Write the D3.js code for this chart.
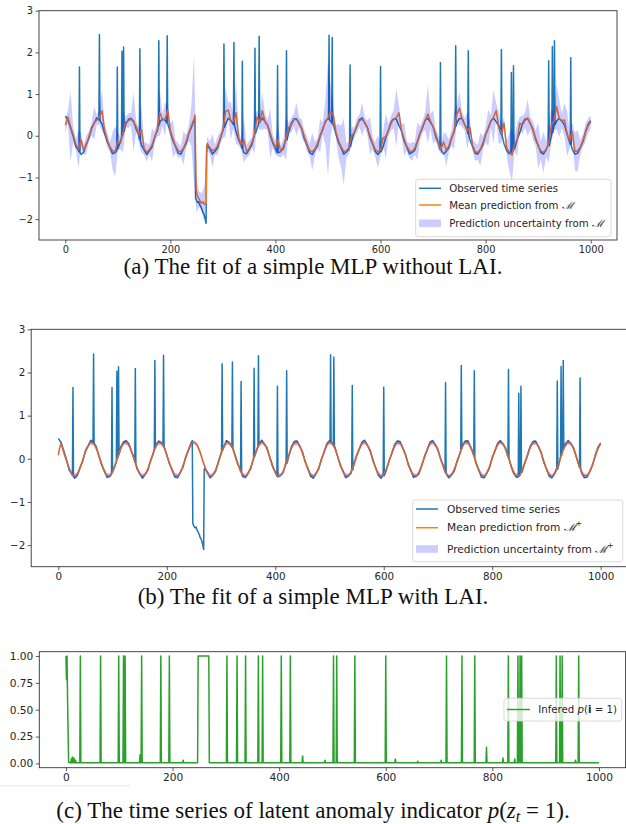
<!DOCTYPE html>
<html>
<head>
<meta charset="utf-8">
<script src="https://cdn.jsdelivr.net/npm/d3@7"></script>
<style>
	body { margin: 0; background: #fff; }
	svg { display: block; font-family: "DejaVu Sans", sans-serif; }
	.cap { font-family: "Liberation Serif", "Times New Roman", serif; font-size: 23px; fill: #111; }
</style>
</head>
<body>
<div id="chart"></div>
<script>
// ---- data ----
var tStep = 5; // observed / predicted values sampled every 5 steps, t = 0..1000

var observed = [
	0.47,0.38,0.19,-0.01,-0.26,-0.35,-0.45,-0.39,-0.20,-0.06,0.19,0.30,0.43,0.37,0.28,0.05,-0.15,-0.28,-0.43,-0.40,-0.33,-0.13,0.04,0.27,0.39,
	0.42,0.35,0.16,0.01,-0.23,-0.34,-0.45,-0.36,-0.27,-0.04,0.12,0.33,0.41,0.37,0.30,0.08,-0.12,-0.26,-0.42,-0.44,-0.31,-0.19,0.05,0.20,0.37,
	-1.55,-1.63,-1.78,-1.92,-0.22,-0.31,-0.44,-0.37,-0.29,-0.07,0.13,0.27,0.42,0.37,0.31,0.10,-0.10,-0.24,-0.41,-0.43,-0.33,-0.22,0.02,0.17,0.36,
	0.43,0.34,0.25,0.02,-0.18,-0.31,-0.44,-0.38,-0.31,-0.10,0.07,0.29,0.40,0.41,0.29,0.17,-0.07,-0.22,-0.40,-0.45,-0.34,-0.24,-0.01,0.15,0.35,
	0.42,0.35,0.27,0.05,-0.16,-0.29,-0.44,-0.39,-0.33,-0.12,0.08,0.23,0.39,0.43,0.31,0.20,-0.04,-0.20,-0.38,-0.45,-0.36,-0.26,-0.04,0.13,0.33,
	0.41,0.40,0.25,0.11,-0.13,-0.27,-0.43,-0.40,-0.35,-0.15,0.05,0.20,0.38,0.42,0.32,0.22,-0.02,-0.17,-0.37,-0.44,-0.37,-0.29,-0.06,0.10,0.31,
	0.41,0.42,0.27,0.14,-0.10,-0.25,-0.42,-0.44,-0.33,-0.21,0.03,0.18,0.36,0.42,0.34,0.24,0.01,-0.19,-0.35,-0.43,-0.38,-0.31,-0.09,0.07,0.29,
	0.40,0.41,0.29,0.16,-0.08,-0.23,-0.40,-0.44,-0.34,-0.24,0.00,0.16,0.35,0.42,0.35,0.26,0.04,-0.16,-0.33,-0.44,-0.42,-0.29,-0.15,0.09,0.27,
	0.36
];

// [t, value before, spike value, value after]
var obsSpikes = [
	[27,-0.38,1.65,-0.40],[65,0.38,2.43,0.36],[99,-0.36,1.65,-0.31],[108,-0.05,2.03,0.00],[111,0.06,2.13,0.10],
	[142,-0.08,2.09,-0.12],[178,0.22,2.28,0.26],[194,0.31,2.40,0.29],[302,0.16,2.20,0.20],[321,0.27,2.24,0.25],
	[337,-0.29,1.79,-0.33],[361,0.02,2.10,0.06],[369,0.29,2.39,0.32],[404,-0.40,1.68,-0.41],[421,-0.06,2.04,-0.10],
	[502,0.40,2.41,0.38],[508,0.31,2.36,0.29],[542,-0.22,1.70,-0.26],[600,-0.37,1.66,-0.39],[714,-0.31,1.76,-0.34],
	[743,0.20,2.16,0.24],[767,0.06,2.04,0.03],[830,0.04,2.07,0.02],[849,-0.41,1.52,-0.40],[853,-0.35,1.68,-0.32],
	[920,-0.21,1.80,-0.24],[927,0.04,2.14,0.08],[931,0.22,2.28,0.26],[962,-0.20,1.87,-0.24]
];

var obsAnomaly = [
	[247,0.42],[248,-1.50],[250,-1.56],[252,-1.60],[254,-1.58],[256,-1.66],[258,-1.70],
	[260,-1.76],[262,-1.84],[264,-1.88],[266,-1.98],[268,-2.10],[269,-0.25]
];

// mean prediction of the plain MLP
var meanA = [
	0.25,0.45,0.22,0.03,-0.20,-0.33,-0.10,-0.34,-0.22,-0.02,0.15,0.31,0.38,0.45,0.60,0.12,-0.10,-0.27,-0.36,-0.38,-0.12,-0.18,0.10,0.33,0.36,
	0.40,0.33,0.22,0.02,0.15,-0.30,-0.40,-0.33,-0.22,-0.05,0.16,0.55,0.38,0.40,0.62,0.12,-0.07,-0.25,-0.36,-0.38,-0.30,-0.14,0.06,0.24,0.40,
	-1.45,-1.52,-1.60,-1.63,-0.20,-0.28,-0.36,-0.33,-0.24,-0.05,0.12,0.58,0.62,0.36,0.33,0.55,-0.05,-0.22,-0.10,-0.38,-0.30,-0.16,0.02,0.45,0.32,
	0.60,0.35,0.26,0.06,-0.14,-0.28,-0.10,-0.38,-0.26,-0.08,0.20,0.25,0.38,0.40,0.32,0.17,-0.02,-0.20,-0.35,-0.38,-0.32,-0.19,0.00,0.18,0.32,
	0.43,0.58,0.50,0.10,-0.12,-0.26,-0.38,-0.36,-0.28,0.00,0.08,0.25,0.36,0.40,0.32,0.18,0.00,-0.18,-0.33,-0.38,-0.35,-0.05,-0.02,0.14,0.30,
	0.40,0.43,0.55,0.12,-0.08,-0.25,-0.36,-0.38,-0.30,-0.13,0.05,0.22,0.36,0.52,0.35,0.21,0.03,-0.16,-0.32,-0.15,-0.35,-0.24,-0.06,0.12,0.50,
	0.66,0.40,0.27,0.12,0.20,-0.22,-0.38,-0.40,-0.32,-0.17,0.03,0.18,0.34,0.45,0.60,0.20,0.05,0.30,-0.30,-0.38,-0.46,-0.20,-0.09,0.30,0.26,
	0.37,0.43,0.30,0.13,-0.05,-0.24,-0.36,-0.40,-0.33,-0.20,0.25,0.35,0.70,0.42,0.36,0.38,0.05,-0.12,0.10,-0.38,-0.36,-0.28,-0.12,0.07,0.24,
	0.33
];

var meanAAnomaly = [
	[247,0.50],[249,-1.30],[251,-1.42],[253,-1.48],[256,-1.55],[259,-1.62],
	[262,-1.58],[265,-1.65],[268,-1.60],[269,-0.45],[270,-0.18]
];

// half width of the uncertainty band of the plain MLP
var spreadA = [
	0.18,0.15,0.85,0.18,0.12,0.45,0.18,0.12,0.22,0.12,0.15,0.40,0.12,0.18,0.50,0.12,0.18,0.12,0.45,0.60,0.22,0.15,0.50,0.12,0.18,
	0.15,0.70,0.12,0.18,0.55,0.15,0.22,0.12,0.40,0.15,0.18,0.55,0.15,0.40,0.12,0.18,0.45,0.15,0.18,0.12,0.40,0.15,0.18,0.50,1.55,
	0.40,0.18,0.22,0.45,0.18,0.15,0.40,0.12,0.22,0.15,0.18,0.60,0.18,0.45,0.15,0.75,0.18,0.12,0.55,0.15,0.18,0.12,0.45,0.15,0.18,
	0.45,0.18,0.12,0.60,0.15,0.18,0.40,0.15,0.18,0.50,0.12,0.18,0.15,0.40,0.12,0.22,0.15,0.18,0.15,0.45,0.18,0.12,0.40,0.15,0.55,
	1.40,0.60,0.18,0.15,0.40,0.50,0.80,0.18,0.15,0.22,0.12,0.18,0.15,0.40,0.12,0.18,0.45,0.15,0.18,0.40,0.12,0.18,0.55,0.15,0.18,
	0.22,0.70,0.18,0.15,0.40,0.12,0.18,0.22,0.15,0.45,0.18,0.15,0.22,0.70,0.18,0.40,0.15,0.18,0.12,0.22,0.40,0.15,0.18,0.45,0.22,
	0.40,0.18,0.15,0.45,0.18,0.15,0.22,0.18,0.40,0.15,0.18,0.45,0.15,0.65,0.18,0.40,0.22,0.15,0.18,0.45,0.65,0.18,0.40,0.15,0.22,
	0.18,0.45,0.15,0.22,0.18,0.55,0.22,0.50,0.18,0.45,0.40,0.22,0.55,0.45,0.18,0.40,0.55,0.18,0.22,0.45,0.50,0.18,0.15,0.22,0.18,
	0.15
];

// mean prediction of the MLP with LAI
var meanB = [
	0.08,0.34,0.15,-0.04,-0.22,-0.35,-0.40,-0.35,-0.22,-0.03,0.16,0.30,0.38,0.35,0.24,0.07,-0.12,-0.29,-0.39,-0.39,-0.30,-0.14,0.05,0.23,0.35,
	0.38,0.32,0.17,-0.02,-0.20,-0.34,-0.40,-0.36,-0.24,-0.06,0.13,0.29,0.37,0.36,0.26,0.09,-0.10,-0.27,-0.38,-0.39,-0.32,-0.16,0.03,0.21,0.34,
	0.38,0.33,0.20,0.01,-0.18,-0.33,-0.40,-0.37,-0.26,-0.09,0.11,0.27,0.37,0.37,0.28,0.12,-0.07,-0.25,-0.37,-0.40,-0.33,-0.19,0.00,0.18,0.32,
	0.38,0.34,0.22,0.04,-0.15,-0.31,-0.39,-0.38,-0.28,-0.11,0.08,0.25,0.36,0.37,0.30,0.14,-0.05,-0.23,-0.36,-0.40,-0.35,-0.21,-0.03,0.16,0.31,
	0.38,0.35,0.24,0.06,-0.13,-0.29,-0.39,-0.39,-0.30,-0.14,0.06,0.23,0.35,0.38,0.31,0.17,-0.02,-0.21,-0.34,-0.40,-0.36,-0.23,-0.05,0.14,0.29,
	0.37,0.36,0.26,0.09,-0.11,-0.27,-0.38,-0.39,-0.31,-0.16,0.03,0.21,0.34,0.38,0.33,0.19,0.00,-0.18,-0.33,-0.40,-0.37,-0.25,-0.08,0.11,0.28,
	0.37,0.37,0.28,0.11,-0.08,-0.26,-0.37,-0.40,-0.33,-0.18,0.01,0.19,0.33,0.38,0.34,0.21,0.03,-0.16,-0.32,-0.39,-0.38,-0.27,-0.10,0.09,0.26,
	0.36,0.37,0.29,0.14,-0.05,-0.24,-0.36,-0.40,-0.34,-0.21,-0.02,0.17,0.31,0.38,0.35,0.23,0.06,-0.14,-0.30,-0.39,-0.39,-0.29,-0.13,0.06,0.24,
	0.35
];

var spreadB = [
	0.08,0.07,0.06,0.05,0.05,0.06,0.06,0.05,0.05,0.05,0.06,0.05,0.06,0.05,0.05,0.05,0.06,0.05,0.06,0.06,0.05,0.05,0.05,0.06,0.05,
	0.06,0.05,0.05,0.05,0.06,0.05,0.06,0.05,0.05,0.05,0.06,0.05,0.06,0.06,0.05,0.05,0.05,0.06,0.06,0.05,0.05,0.05,0.06,0.05,0.06,
	0.05,0.05,0.06,0.05,0.05,0.06,0.06,0.05,0.05,0.05,0.06,0.05,0.06,0.05,0.05,0.05,0.06,0.05,0.06,0.06,0.05,0.05,0.05,0.06,0.05,
	0.06,0.05,0.05,0.05,0.06,0.05,0.06,0.05,0.05,0.05,0.06,0.05,0.06,0.06,0.05,0.05,0.05,0.06,0.06,0.05,0.05,0.05,0.06,0.05,0.06,
	0.05,0.05,0.06,0.05,0.05,0.06,0.06,0.05,0.05,0.05,0.06,0.05,0.06,0.05,0.05,0.05,0.06,0.05,0.06,0.06,0.05,0.05,0.05,0.06,0.05,
	0.06,0.05,0.05,0.05,0.06,0.05,0.06,0.05,0.05,0.05,0.06,0.05,0.06,0.06,0.05,0.05,0.05,0.06,0.06,0.05,0.05,0.05,0.06,0.05,0.06,
	0.05,0.05,0.06,0.05,0.05,0.06,0.06,0.05,0.05,0.05,0.06,0.05,0.06,0.05,0.05,0.05,0.06,0.05,0.06,0.06,0.05,0.05,0.05,0.06,0.05,
	0.06,0.05,0.05,0.05,0.06,0.05,0.06,0.05,0.05,0.05,0.06,0.05,0.06,0.06,0.05,0.05,0.05,0.06,0.06,0.05,0.05,0.05,0.06,0.05,0.06,
	0.05
];

// inferred anomaly probability p(i = 1)
var probFloor = 0.005;
var probStart = [[0,1.0],[1,0.78],[2,1.0],[3,0.6],[5,0.01]];
var probSpikes = [27,65,99,108,111,142,178,194,302,321,337,361,369,404,421,
	502,508,542,600,714,743,767,830,848,852,855,920,927,931,962];
var probBumps = [[10,0.04],[12,0.06],[15,0.05],[18,0.03],[139,0.08],[220,0.03],[444,0.07],[486,0.03],
	[618,0.04],[660,0.02],[704,0.03],[789,0.15],[820,0.05],[842,0.04],[956,0.03]];
var probBlock = [[247,0.005],[248,1.0],[268,1.0],[269,0.005]];
var probEnd = [[1000,0.005]];

var xTicks = [0, 200, 400, 600, 800, 1000];
var yTicksAB = [-2, -1, 0, 1, 2, 3];
var yTicksC = [0, 0.25, 0.5, 0.75, 1];

// ---- helpers ----
var BLUE = "#1f77b4", ORANGE = "#ff7f0e", GREEN = "#2ca02c", BAND = "rgba(0,0,255,0.2)";

function gridPoints(vals) {
	return vals.map(function(v, i) { return [i * tStep, v]; });
}

// put explicit groups of points in place of the grid samples they cover
function mergeGroups(pts, groups) {
	groups.forEach(function(g) {
		var lo = g[0][0], hi = g[g.length - 1][0];
		pts = pts.filter(function(p) { return p[0] < lo || p[0] > hi; }).concat(g);
	});
	return pts.sort(function(a, b) { return a[0] - b[0]; });
}

function spikeGroup(s) {
	return [[s[0] - 1, s[1]], [s[0], s[2]], [s[0] + 1, s[3]]];
}

var svg = d3.select("#chart").append("svg")
	.attr("width", 626)
	.attr("height", 824);

var clipId = 0;

function makePanel(o) {
	var x = d3.scaleLinear().domain([-50, 1050]).range([o.left, o.right]);
	var y = d3.scaleLinear().domain(o.yDomain).range([o.bottom, o.top]);
	var g = svg.append("g");

	var id = "clip" + (clipId++);
	g.append("clipPath").attr("id", id)
		.append("rect")
		.attr("x", o.left).attr("y", o.top)
		.attr("width", o.right - o.left).attr("height", o.bottom - o.top);

	var plot = g.append("g").attr("clip-path", "url(#" + id + ")");

	var xa = g.append("g")
		.attr("transform", "translate(0," + o.bottom + ")")
		.call(d3.axisBottom(x).tickValues(xTicks).tickSize(3.5).tickPadding(2.5).tickFormat(d3.format("d")));
	var ya = g.append("g")
		.attr("transform", "translate(" + o.left + ",0)")
		.call(d3.axisLeft(y).tickValues(o.yTicks).tickSize(3.5).tickPadding(2.5).tickFormat(o.yFormat));

	[xa, ya].forEach(function(a) {
		a.select(".domain").remove();
		a.selectAll("line").attr("stroke", "#333").attr("stroke-width", 0.8);
		a.selectAll("text").attr("fill", "#262626")
			.style("font-family", "'DejaVu Sans', sans-serif")
			.style("font-size", o.font + "px");
	});

	g.append("rect")
		.attr("x", o.left).attr("y", o.top)
		.attr("width", o.right - o.left).attr("height", o.bottom - o.top)
		.attr("fill", "none")
		.attr("stroke", "#333")
		.attr("stroke-width", 0.9);

	return { x: x, y: y, g: g, plot: plot };
}

function drawLine(p, pts, color, width, curve) {
	p.plot.append("path")
		.datum(pts)
		.attr("fill", "none")
		.attr("stroke", color)
		.attr("stroke-width", width)
		.attr("stroke-linejoin", "round")
		.attr("d", d3.line()
			.x(function(d) { return p.x(d[0]); })
			.y(function(d) { return p.y(d[1]); })
			.curve(curve || d3.curveLinear));
}

function drawBand(p, mean, spread, curve) {
	var pts = mean.map(function(m, i) { return [i * tStep, m, spread[i]]; });
	p.plot.append("path")
		.datum(pts)
		.attr("fill", BAND)
		.attr("stroke", "none")
		.attr("d", d3.area()
			.x(function(d) { return p.x(d[0]); })
			.y0(function(d) { return p.y(d[1] - d[2]); })
			.y1(function(d) { return p.y(d[1] + d[2]); })
			.curve(curve || d3.curveLinear));
}

// legend rows: {kind, color, label(tspans)}
function drawLegend(box, rows) {
	var lg = svg.append("g");
	lg.append("rect")
		.attr("x", box.x).attr("y", box.y)
		.attr("width", box.w).attr("height", box.h)
		.attr("rx", 2.5)
		.attr("fill", "#fff").attr("fill-opacity", 0.8)
		.attr("stroke", "#d0d0d0").attr("stroke-width", 0.8);
	rows.forEach(function(r) {
		if (r.kind == "line") {
			lg.append("line")
				.attr("x1", box.hx).attr("x2", box.hx + box.hw)
				.attr("y1", r.y).attr("y2", r.y)
				.attr("stroke", r.color).attr("stroke-width", 1.5);
		} else {
			lg.append("rect")
				.attr("x", box.hx).attr("y", r.y - 3.8)
				.attr("width", box.hw).attr("height", 7.6)
				.attr("fill", r.color);
		}
		var t = lg.append("text")
			.attr("x", box.tx).attr("y", r.y + 3.6)
			.attr("fill", "#262626")
			.style("font-size", box.font + "px");
		r.label.forEach(function(s) {
			var ts = t.append("tspan").text(s.t);
			if (s.style) ts.attr("style", s.style);
			if (s.dy) ts.attr("dy", s.dy);
		});
	});
}

// ---- panel (a) ----
var pa = makePanel({ left: 39, right: 617, top: 10.7, bottom: 240, yDomain: [-2.5, 3],
	yTicks: yTicksAB, yFormat: d3.format("d"), font: 9.8 });

var obsPts = mergeGroups(gridPoints(observed), obsSpikes.map(spikeGroup).concat([obsAnomaly]));
drawLine(pa, obsPts, BLUE, 1.5);
drawLine(pa, mergeGroups(gridPoints(meanA), [meanAAnomaly]), ORANGE, 1.5);
drawBand(pa, meanA, spreadA);

drawLegend({ x: 415.7, y: 179.3, w: 195.3, h: 57.4, hx: 419, hw: 22, tx: 449.3, font: 10.2 }, [
	{ kind: "line", color: BLUE, y: 188.3, label: [{ t: "Observed time series" }] },
	{ kind: "line", color: ORANGE, y: 205, label: [{ t: "Mean prediction from " }, { t: "ℳ", style: "font-family:'DejaVu Serif',serif;font-style:italic" }] },
	{ kind: "patch", color: BAND, y: 223.3, label: [{ t: "Prediction uncertainty from " }, { t: "ℳ", style: "font-family:'DejaVu Serif',serif;font-style:italic" }] }
]);

// ---- panel (b) ----
var pb = makePanel({ left: 31.2, right: 627.8, top: 329.3, bottom: 566.7, yDomain: [-2.5, 3],
	yTicks: yTicksAB, yFormat: d3.format("d"), font: 10.3 });

drawLine(pb, obsPts, BLUE, 1.5);
drawLine(pb, gridPoints(meanB), ORANGE, 1.6, d3.curveMonotoneX);
drawBand(pb, meanB, spreadB, d3.curveMonotoneX);

drawLegend({ x: 412.7, y: 500, w: 210, h: 61.7, hx: 416, hw: 22, tx: 447, font: 10.6 }, [
	{ kind: "line", color: BLUE, y: 509, label: [{ t: "Observed time series" }] },
	{ kind: "line", color: ORANGE, y: 527.7, label: [{ t: "Mean prediction from " }, { t: "ℳ", style: "font-family:'DejaVu Serif',serif;font-style:italic" }, { t: "+", style: "font-size:7.5px", dy: "-5" }] },
	{ kind: "patch", color: BAND, y: 549, label: [{ t: "Prediction uncertainty from " }, { t: "ℳ", style: "font-family:'DejaVu Serif',serif;font-style:italic" }, { t: "+", style: "font-size:7.5px", dy: "-5" }] }
]);

// ---- panel (c) ----
var pc = makePanel({ left: 39.3, right: 625.6, top: 651.7, bottom: 767.7, yDomain: [-0.04, 1.04],
	yTicks: yTicksC, yFormat: d3.format(".2f"), font: 10.6 });

var probGroups = probSpikes.map(function(t) { return spikeGroup([t, probFloor, 1.0, probFloor]); })
	.concat(probBumps.map(function(b) { return spikeGroup([b[0], probFloor, b[1], probFloor]); }));
var probPts = probStart.concat(probBlock, probEnd);
probGroups.forEach(function(g) { probPts = probPts.concat(g); });
probPts.sort(function(a, b) { return a[0] - b[0]; });
drawLine(pc, probPts, GREEN, 1.5);

drawLegend({ x: 504, y: 698.3, w: 117.7, h: 22.7, hx: 507, hw: 23, tx: 538.3, font: 10.2 }, [
	{ kind: "line", color: GREEN, y: 709.5, label: [
		{ t: "Infered " }, { t: "p", style: "font-style:italic" }, { t: "(" },
		{ t: "i", style: "font-weight:bold" }, { t: " = 1)" }] }
]);

// faint rule under panel (c)
svg.append("rect")
	.attr("x", 0).attr("y", 785.2)
	.attr("width", 130).attr("height", 1)
	.attr("fill", "#e4e4e4");

// ---- captions ----
function caption(y, parts) {
	var t = svg.append("text")
		.attr("class", "cap")
		.attr("x", 313).attr("y", y)
		.attr("text-anchor", "middle");
	parts.forEach(function(s) {
		var ts = t.append("tspan").text(s.t);
		if (s.style) ts.attr("style", s.style);
		if (s.dy) ts.attr("dy", s.dy);
	});
}

caption(274, [{ t: "(a) The fit of a simple MLP without LAI." }]);
caption(604, [{ t: "(b) The fit of a simple MLP with LAI." }]);
caption(818, [
	{ t: "(c) The time series of latent anomaly indicator " },
	{ t: "p", style: "font-style:italic" }, { t: "(" },
	{ t: "z", style: "font-style:italic" },
	{ t: "t", style: "font-style:italic;font-size:16px", dy: "4" },
	{ t: " = 1).", dy: "-4" }
]);
</script>
</body>
</html>
